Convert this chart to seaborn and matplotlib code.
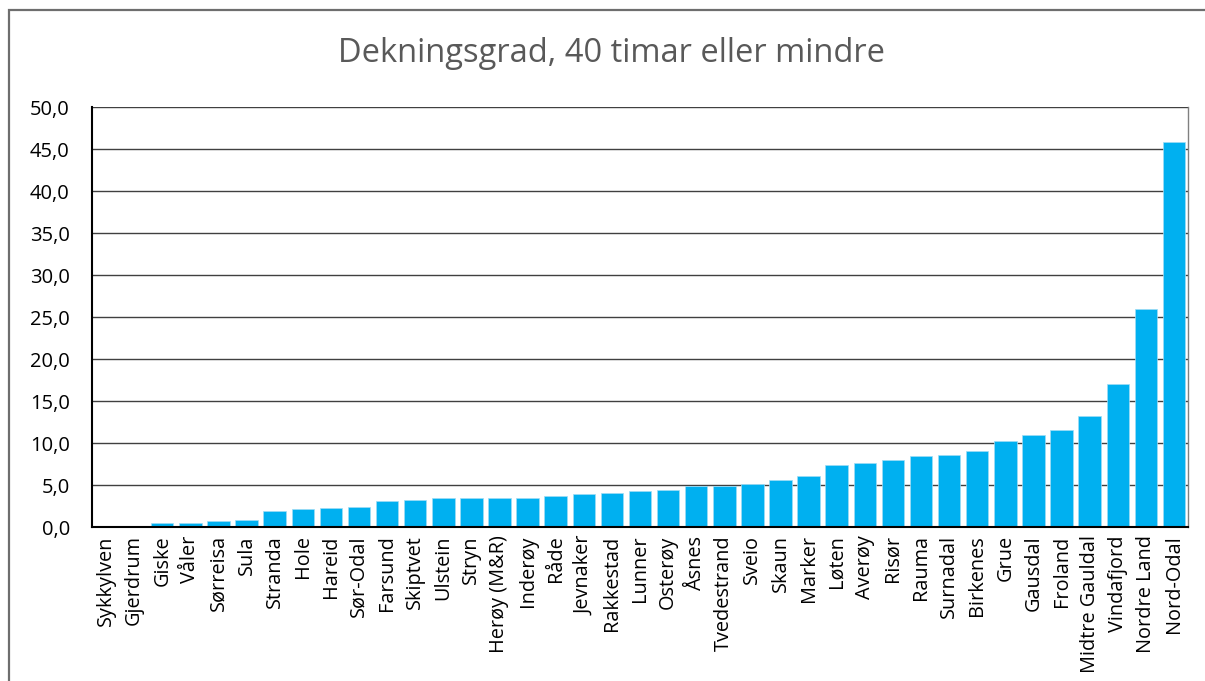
import matplotlib
matplotlib.use("Agg")
import matplotlib.pyplot as plt
import seaborn as sns
import pandas as pd
from matplotlib.patches import Rectangle
from matplotlib.ticker import FuncFormatter, MultipleLocator

kommunar = ["Sykkylven", "Gjerdrum", "Giske", "Våler", "Sørreisa", "Sula", "Stranda",
            "Hole", "Hareid", "Sør-Odal", "Farsund", "Skiptvet", "Ulstein", "Stryn",
            "Herøy (M&R)", "Inderøy", "Råde", "Jevnaker", "Rakkestad", "Lunner",
            "Osterøy", "Åsnes", "Tvedestrand", "Sveio", "Skaun", "Marker", "Løten",
            "Averøy", "Risør", "Rauma", "Surnadal", "Birkenes", "Grue", "Gausdal",
            "Froland", "Midtre Gauldal", "Vindafjord", "Nordre Land", "Nord-Odal"]
dekningsgrad = [0.0, 0.0, 0.5, 0.5, 0.7, 0.8, 1.9, 2.2, 2.3, 2.4, 3.1, 3.2, 3.4, 3.4,
                3.5, 3.5, 3.7, 3.9, 4.1, 4.3, 4.4, 4.9, 4.9, 5.1, 5.6, 6.1, 7.4,
                7.6, 8.0, 8.4, 8.6, 9.1, 10.2, 11.0, 11.6, 13.2, 17.0, 26.0, 45.8]
tittel = "Dekningsgrad, 40 timar eller mindre"

df = pd.DataFrame({"kommune": kommunar, "verdi": dekningsgrad})

sns.set_theme(style="white")
plt.rcParams["font.family"] = ["Open Sans", "DejaVu Sans"]

fig = plt.figure(figsize=(12.05, 6.81), dpi=100)
ax = fig.add_axes([92 / 1205, 1 - 527 / 681, (1188 - 92) / 1205, (527 - 107) / 681])

sns.barplot(data=df, x="kommune", y="verdi", color="#00B0F0", width=0.8,
            edgecolor="#9fdcf5", linewidth=0.5, saturation=1, ax=ax, zorder=3)

ax.set_ylim(0, 50)
ax.set_xlim(-0.5, len(kommunar) - 0.5)
ax.yaxis.set_major_locator(MultipleLocator(5))
ax.yaxis.set_major_formatter(FuncFormatter(lambda v, p: f"{v:.1f}".replace(".", ",")))
ax.grid(axis="y", color="#404040", linewidth=1.0, zorder=0)
ax.set_axisbelow(True)
ax.set_xlabel("")
ax.set_ylabel("")
ax.tick_params(axis="y", labelsize=14.5, length=0, pad=16, labelcolor="#000000")
ax.tick_params(axis="x", labelsize=14.3, length=0, pad=6, labelcolor="#000000")
for lab in ax.get_xticklabels():
    lab.set_rotation(90)
for side in ["left", "bottom"]:
    ax.spines[side].set_color("#000000")
    ax.spines[side].set_linewidth(1.5)
ax.spines["top"].set_visible(False)
ax.spines["right"].set_color("#808080")
ax.spines["right"].set_linewidth(1.0)
for side in ["left", "bottom", "right"]:
    ax.spines[side].set_zorder(5)

fig.text(612 / 1205, 1 - 54 / 681, tittel, ha="center", va="center",
         fontsize=23.5, color="#595959")

fig.patches.append(Rectangle((9 / 1205, -0.05), 1.2, 1 - 10 / 681 + 0.05,
                             transform=fig.transFigure, fill=False,
                             edgecolor="#6e6e6e", linewidth=1.6))

fig.savefig("out.png", dpi=100)
